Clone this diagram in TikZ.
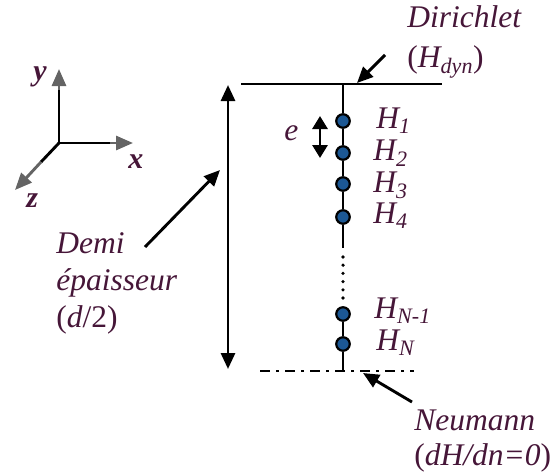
\documentclass[tikz,border=0pt]{standalone}
\usepackage{fontspec}
\setmainfont{Liberation Serif}
\usetikzlibrary{arrows.meta}
\definecolor{txt}{RGB}{70,22,56}
\definecolor{nodeblue}{RGB}{28,88,148}
\definecolor{axgray}{RGB}{100,100,100}
\begin{document}
\begin{tikzpicture}[x=1pt,y=-1pt, line width=2.9pt,
  lbl/.style={text=txt, font=\fontsize{31.5}{37}\selectfont\itshape, inner sep=0pt, anchor=base west},
  axlbl/.style={text=txt, font=\fontsize{30}{36}\selectfont\bfseries\itshape, inner sep=0pt, anchor=base west},
  hpt/.style={circle, draw=black, fill=nodeblue, line width=2.2pt, minimum size=13.5pt, inner sep=0pt},
  arr/.style={-{Triangle[length=16pt,width=14pt]}},
  darr/.style={{Triangle[length=16pt,width=14pt]}-{Triangle[length=16pt,width=14pt]}},
  garr/.style={draw=axgray, fill=axgray, -{Triangle[length=17pt,width=14pt]}},
]
\useasboundingbox (0,0) rectangle (551,474);

% axes
\coordinate (o) at (59,143);
\coordinate (ym) at (59,90);  \coordinate (yt) at (59,69);
\coordinate (xm) at (110,143); \coordinate (xt) at (133,143);
\coordinate (zm) at (41,162); \coordinate (zt) at (15,190);
\draw (o) -- (ym);
\draw (o) -- (xm);
\draw (o) -- (zm);
\draw[garr] (ym) -- (yt);
\draw[garr] (xm) -- (xt);
\draw[garr] (zm) -- (zt);
\node[axlbl] (ylab) at (32,80) {y};
\node[axlbl] (xlab) at (127,168) {x};
\node[axlbl] (zlab) at (25,207) {z};

% main column
\coordinate (tl) at (241,84);
\coordinate (tr) at (442,84);
\coordinate (top) at (343,84);
\draw (tl) -- (tr);
\node[hpt] (h1) at (343,121) {};
\node[hpt] (h2) at (343,153) {};
\node[hpt] (h3) at (343,184) {};
\node[hpt] (h4) at (343,217) {};
\coordinate (s1) at (343,248);
\coordinate (d1) at (343,257);
\coordinate (d2) at (343,298);
\node[hpt] (hn1) at (343,314) {};
\node[hpt] (hn) at (343,344) {};
\coordinate (bot) at (343,371);
\draw (top) -- (h1) -- (h2) -- (h3) -- (h4) -- (s1);
\draw[line cap=round, line width=3.6pt, dash pattern=on 0pt off 8.2pt] (d1) -- (d2);
\draw (hn1) -- (hn) -- (bot);
\coordinate (bl) at (260,371);
\coordinate (br) at (414,371);
\draw[line width=2.4pt, dash pattern=on 10pt off 6pt on 3pt off 6pt] (bl) -- (br);

% labels H
\node[lbl] (l1) at (375,128) {H\textsubscript{1}};
\node[lbl] (l2) at (372,160) {H\textsubscript{2}};
\node[lbl] (l3) at (372,192) {H\textsubscript{3}};
\node[lbl] (l4) at (372,223) {H\textsubscript{4}};
\node[lbl] (ln1) at (373,318) {H\textsubscript{N-1}};
\node[lbl] (ln) at (375,350) {H\textsubscript{N}};

% e
\coordinate (et) at (320,116);
\coordinate (eb) at (320,158);
\draw[{Triangle[length=13pt,width=15pt]}-{Triangle[length=13pt,width=15pt]}] (et) -- (eb);
\node[lbl] (elab) at (283,140) {e};

% half thickness
\coordinate (at) at (228,85);
\coordinate (ab) at (228,369);
\draw[darr] (at) -- (ab);
\node[lbl] (demi1) at (55,253) {Demi};
\node[lbl] (demi2) at (55,290) {épaisseur};
\node[lbl] (demi3) at (55,327) {\upshape(\itshape d\upshape/2)};
\coordinate (dtail) at (145,247);
\coordinate (dhead) at (220,170);
\draw[arr] (dtail) -- (dhead);

% Dirichlet
\node[lbl] (dir1) at (406,27) {Dirichlet};
\node[lbl] (dir2) at (406,67) {\upshape(\itshape H\textsubscript{dyn}\upshape)};
\coordinate (ditail) at (385,55);
\coordinate (dihead) at (357,83);
\draw[arr] (ditail) -- (dihead);

% Neumann
\node[lbl] (neu1) at (413,430) {Neumann};
\node[lbl] (neu2) at (413,465) {\upshape(\itshape dH/dn=0\upshape)};
\coordinate (ntail) at (412,402);
\coordinate (nhead) at (363,373);
\draw[arr] (ntail) -- (nhead);
\end{tikzpicture}
\end{document}
